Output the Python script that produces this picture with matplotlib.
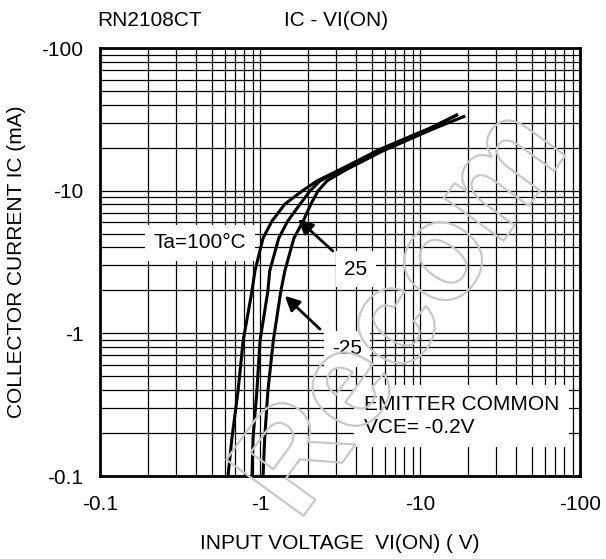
import matplotlib
matplotlib.use('Agg')
import matplotlib.pyplot as plt
import matplotlib.patheffects as pe
from matplotlib.ticker import LogLocator, NullFormatter

plt.rcParams['font.family'] = ['Liberation Sans', 'DejaVu Sans']

# IC - VI(ON) curves, magnitudes (V, mA)
vi_ta100 = [0.631, 0.668, 0.729, 0.784, 0.891, 0.93, 1.045, 1.188, 1.43, 1.83, 2.27, 3.3, 5.62, 11.5, 17.1]
ic_ta100 = [0.1, 0.185, 0.394, 0.883, 1.98, 2.74, 4.65, 6.12, 8.05, 9.93, 11.7, 14.4, 19.5, 27.4, 34.0]

vi_ta25 = [0.891, 0.905, 0.956, 1.0, 1.12, 1.15, 1.31, 1.49, 1.78, 2.05, 2.37, 3.3, 5.6, 11.5, 17.3]
ic_ta25 = [0.1, 0.185, 0.394, 0.883, 1.98, 2.74, 4.65, 6.12, 8.05, 9.93, 11.7, 14.2, 19.3, 27.1, 34.3]

vi_tam25 = [1.045, 1.07, 1.12, 1.21, 1.35, 1.43, 1.63, 1.86, 2.08, 2.30, 2.62, 3.4, 5.8, 11.8, 19.2]
ic_tam25 = [0.1, 0.185, 0.394, 0.883, 1.98, 2.74, 4.65, 6.12, 8.05, 9.93, 11.7, 13.9, 18.9, 26.8, 33.4]

x_ticks = [0.1, 1, 10, 100]
x_ticklabels = ['-0.1', '-1', '-10', '-100']
y_ticks = [0.1, 1, 10, 100]
y_ticklabels = ['-0.1', '-1', '-10', '-100']

FS = 15

fig = plt.figure(figsize=(6.06, 5.59), dpi=100)
ax = fig.add_axes([100 / 606, 1 - 476 / 559, 480 / 606, 428 / 559])

ax.set_xscale('log')
ax.set_yscale('log')
ax.set_xlim(0.1, 100)
ax.set_ylim(0.1, 100)

ax.xaxis.set_minor_locator(LogLocator(base=10, subs=range(2, 10)))
ax.yaxis.set_minor_locator(LogLocator(base=10, subs=range(2, 10)))
ax.xaxis.set_minor_formatter(NullFormatter())
ax.yaxis.set_minor_formatter(NullFormatter())
ax.set_xticks(x_ticks)
ax.set_xticklabels(x_ticklabels)
ax.set_yticks(y_ticks)
ax.set_yticklabels(y_ticklabels)
ax.tick_params(which='both', length=0, labelsize=FS, colors='black')
ax.tick_params(axis='x', pad=14)
ax.tick_params(axis='y', pad=12)

ax.grid(True, which='both', color='black', linewidth=0.9)
ax.set_axisbelow(True)
for sp in ax.spines.values():
    sp.set_linewidth(2.0)

for vi, ic in [(vi_ta100, ic_ta100), (vi_ta25, ic_ta25), (vi_tam25, ic_tam25)]:
    ax.plot(vi, ic, color='black', linewidth=2.2, zorder=5, solid_capstyle='butt')

ax.text(0.422, 4.3, 'Ta=100°C', fontsize=FS, ha='center', va='center',
        bbox=dict(facecolor='white', edgecolor='none', pad=6), zorder=3)
ax.text(3.98, 2.82, '25', fontsize=FS, ha='center', va='center',
        bbox=dict(facecolor='white', edgecolor='none', pad=6), zorder=3)
ax.text(3.49, 0.777, '-25', fontsize=FS, ha='center', va='center',
        bbox=dict(facecolor='white', edgecolor='none', pad=6), zorder=3)
ax.text(4.46, 0.263, 'EMITTER COMMON\nVCE= -0.2V', fontsize=FS, ha='left', va='center',
        linespacing=1.25, bbox=dict(facecolor='white', edgecolor='none', pad=7), zorder=3)

arrow = dict(arrowstyle='-|>', color='black', lw=2.0, mutation_scale=22, shrinkA=0, shrinkB=0)
ax.annotate('', xy=(1.73, 6.3), xytext=(2.85, 3.78), arrowprops=arrow, zorder=6)
ax.annotate('', xy=(1.43, 1.83), xytext=(2.37, 1.07), arrowprops=arrow, zorder=6)

ax.set_xlabel('INPUT VOLTAGE  VI(ON) ( V)', fontsize=FS, labelpad=14)
ax.set_ylabel('COLLECTOR CURRENT IC (mA)', fontsize=FS, labelpad=11)

fig.text(150 / 606, 1 - 20 / 559, 'RN2108CT', fontsize=FS, ha='center', va='center')
fig.text(336 / 606, 1 - 20 / 559, 'IC - VI(ON)', fontsize=FS, ha='center', va='center')

# faint outlined watermark
wm = fig.text(405 / 606, 1 - 315 / 559, 'Recom', fontsize=100, fontweight='bold', rotation=54,
              ha='center', va='center', color='none', zorder=10)
wm.set_path_effects([pe.Stroke(linewidth=1.6, foreground='#c8c8c8')])

fig.savefig('out.png', dpi=100)
